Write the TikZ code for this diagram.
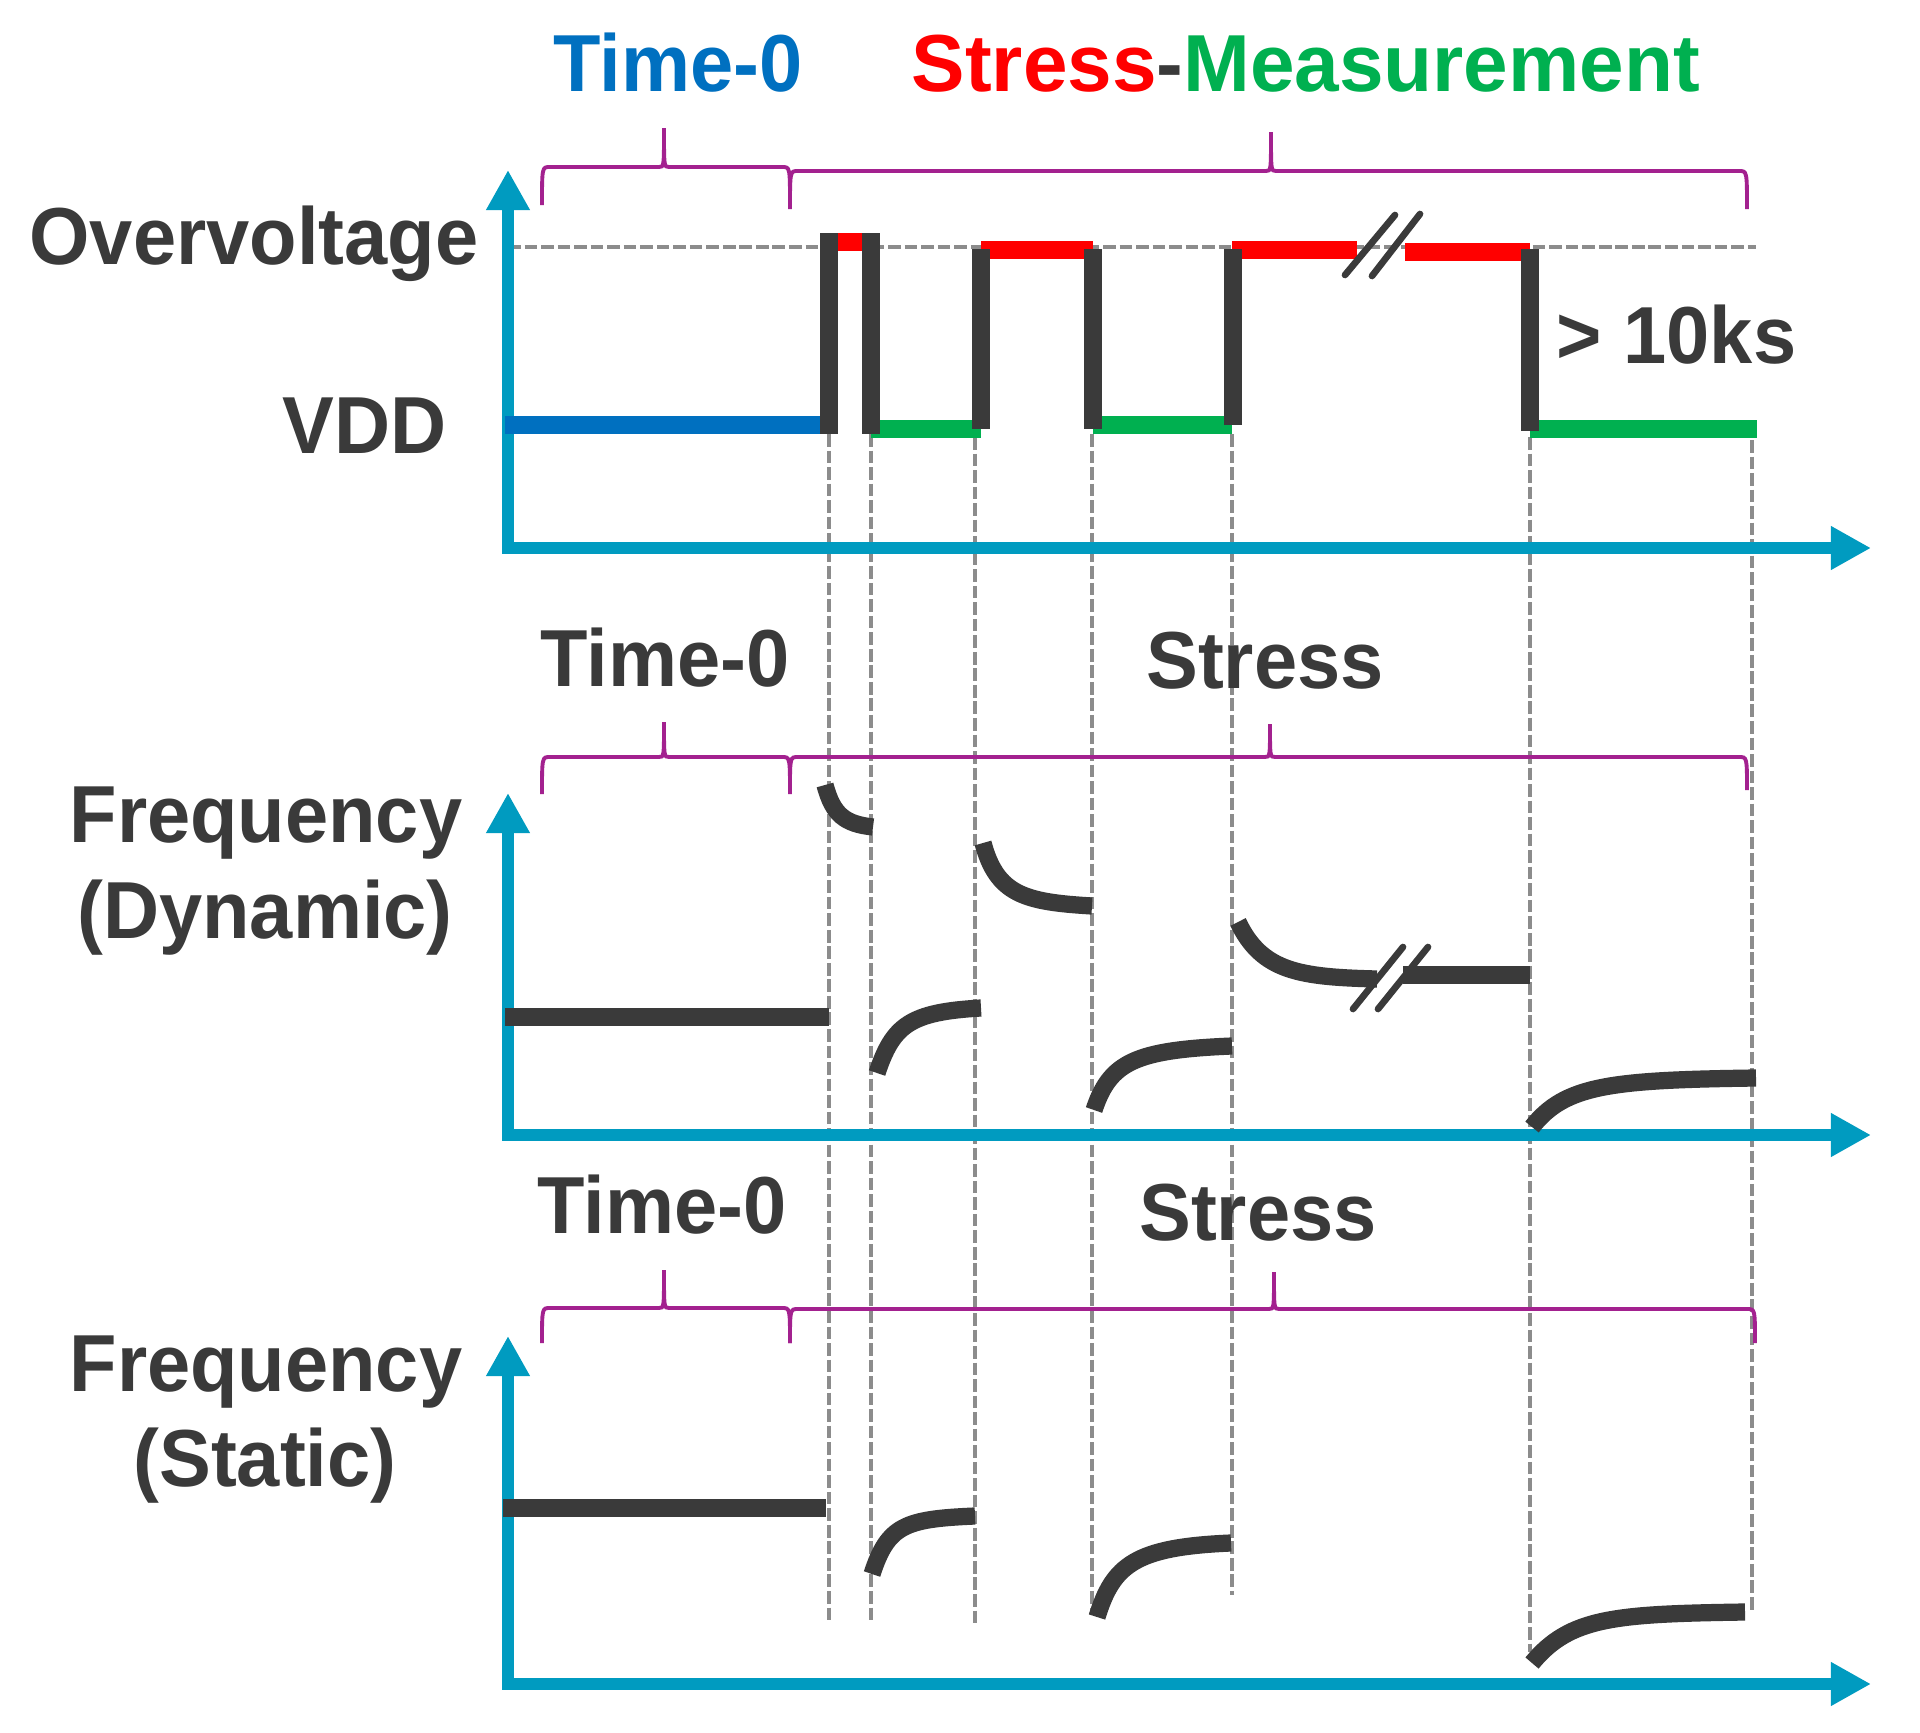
\documentclass[tikz,border=0pt]{standalone}
\usepackage{fontspec}
\setmainfont{Liberation Sans}[FakeStretch=0.96]
\usetikzlibrary{arrows.meta}

\definecolor{axisblue}{RGB}{0,155,192}
\definecolor{tzblue}{RGB}{0,112,192}
\definecolor{stred}{RGB}{255,0,0}
\definecolor{msgreen}{RGB}{0,176,80}
\definecolor{dgray}{RGB}{58,58,58}
\definecolor{brpurple}{RGB}{163,33,143}
\definecolor{guidegray}{RGB}{140,140,140}

% brace: left x, tip x, right x, end y, line y, tip y
\newcommand{\tbrace}[6]{\draw[brc] (#1,#4) .. controls (#1,#5) .. (#1+8,#5) -- (#2-5,#5) .. controls (#2,#5) .. (#2,#6) .. controls (#2,#5) .. (#2+5,#5) -- (#3-8,#5) .. controls (#3,#5) .. (#3,#4);}

\begin{document}
\begin{tikzpicture}[x=0.01cm,y=-0.01cm,
    axis/.style={line width=3.3pt,draw=axisblue,{Triangle[length=0.4cm,width=0.41cm]}-{Triangle[length=0.4cm,width=0.41cm]}},
    sig/.style={line width=4.9pt},
    guide/.style={draw=guidegray,line width=1.4pt,dash pattern=on 3.6pt off 1.1pt},
    brc/.style={draw=brpurple,line width=1.1pt},
    brk/.style={draw=dgray,line width=1.9pt,line cap=round},
    lbl/.style={inner sep=0,text=dgray,font=\bfseries\fontsize{23}{27}\selectfont}]
    \useasboundingbox[fill=white] (0,0) rectangle (1920,1733);

    % guides
    \draw[guide] (508,247) -- (1756,247);
    \foreach \x/\ya/\yb in {829/434/1621, 871/434/1623, 975/437/1623, 1092/434/1615, 1232/434/1595, 1530/437/1652, 1752/440/1613}
        \draw[guide] (\x,\ya) -- (\x,\yb);

    % axes
    \draw[axis] (508,170) -- (508,548) -- (1871,548);
    \draw[axis] (508,793) -- (508,1135) -- (1871,1135);
    \draw[axis] (508,1336) -- (508,1684) -- (1871,1684);

    % voltage
    \draw[sig,tzblue] (505,425) -- (822,425);
    \draw[sig,stred] (829,242) -- (871,242);
    \draw[sig,stred] (981,250) -- (1093,250);
    \draw[sig,stred] (1232,250) -- (1357,250);
    \draw[sig,stred] (1405,252) -- (1530,252);
    \draw[sig,msgreen] (871,429) -- (981,429);
    \draw[sig,msgreen] (1093,425) -- (1232,425);
    \draw[sig,msgreen] (1530,429) -- (1757,429);
    \foreach \x/\ya/\yb in {829/233/434, 871/233/434, 981/249/429, 1093/249/429, 1233/249/425, 1530/249/431}
        \draw[sig,dgray] (\x,\ya) -- (\x,\yb);
    \draw[brk] (1345,275) -- (1395,215);
    \draw[brk] (1372,276) -- (1420,214);

    % dynamic frequency
    \draw[sig,dgray] (505,1017) -- (829,1017);
    \draw[sig,dgray] (825,785) .. controls (833,815) and (845,824) .. (873,827);
    \draw[sig,dgray] (877,1073) .. controls (893,1025) and (910,1012) .. (981,1008);
    \draw[sig,dgray] (983,843) .. controls (997,895) and (1025,902) .. (1092,906);
    \draw[sig,dgray] (1094,1110) .. controls (1110,1062) and (1135,1050) .. (1232,1046);
    \draw[sig,dgray] (1238,922) .. controls (1262,972) and (1300,977) .. (1377,979);
    \draw[sig,dgray] (1403,975) -- (1530,975);
    \draw[sig,dgray] (1532,1127) .. controls (1565,1085) and (1610,1080) .. (1756,1078);
    \draw[brk] (1353,1009) -- (1403,947);
    \draw[brk] (1378,1009) -- (1428,947);

    % static frequency
    \draw[sig,dgray] (503,1508) -- (826,1508);
    \draw[sig,dgray] (872,1574) .. controls (888,1525) and (905,1519) .. (975,1516);
    \draw[sig,dgray] (1097,1617) .. controls (1113,1565) and (1135,1547) .. (1231,1543);
    \draw[sig,dgray] (1532,1663) .. controls (1570,1617) and (1615,1614) .. (1745,1612);

    % braces
    \tbrace{542}{664}{790}{205}{167}{128}
    \tbrace{790}{1271}{1747}{209}{171}{132}
    \tbrace{542}{664}{790}{794}{757}{722}
    \tbrace{790}{1270}{1747}{790}{757}{724}
    \tbrace{542}{664}{790}{1343}{1308}{1270}
    \tbrace{790}{1274}{1755}{1343}{1309}{1272}

    % labels
    \node[lbl,text=tzblue,anchor=base west] (hdT0) at (553,91) {Time-0};
    \node[lbl,anchor=base west] (hdSM) at (911,91) {\scalebox{1.032}[1]{\color{stred}Stress\color{dgray}-\color{msgreen}Measurement}};
    \node[lbl,anchor=base east] (ov) at (479,264) {Overvoltage};
    \node[lbl,anchor=base east] (vdd) at (447,453) {VDD};
    \node[lbl,anchor=base west] (gt10) at (1556,363) {> 10ks};
    \node[lbl,anchor=base] (t0dyn) at (665,686) {Time-0};
    \node[lbl,anchor=base] (stdyn) at (1265,688) {Stress};
    \node[lbl,anchor=base] (fdyn) at (266,842) {Frequency};
    \node[lbl,anchor=base] (fdyn2) at (265,938) {(Dynamic)};
    \node[lbl,anchor=base] (t0sta) at (662,1233) {Time-0};
    \node[lbl,anchor=base] (ststa) at (1258,1240) {Stress};
    \node[lbl,anchor=base] (fsta) at (266,1391) {Frequency};
    \node[lbl,anchor=base] (fsta2) at (265,1486) {(Static)};
\end{tikzpicture}
\end{document}
